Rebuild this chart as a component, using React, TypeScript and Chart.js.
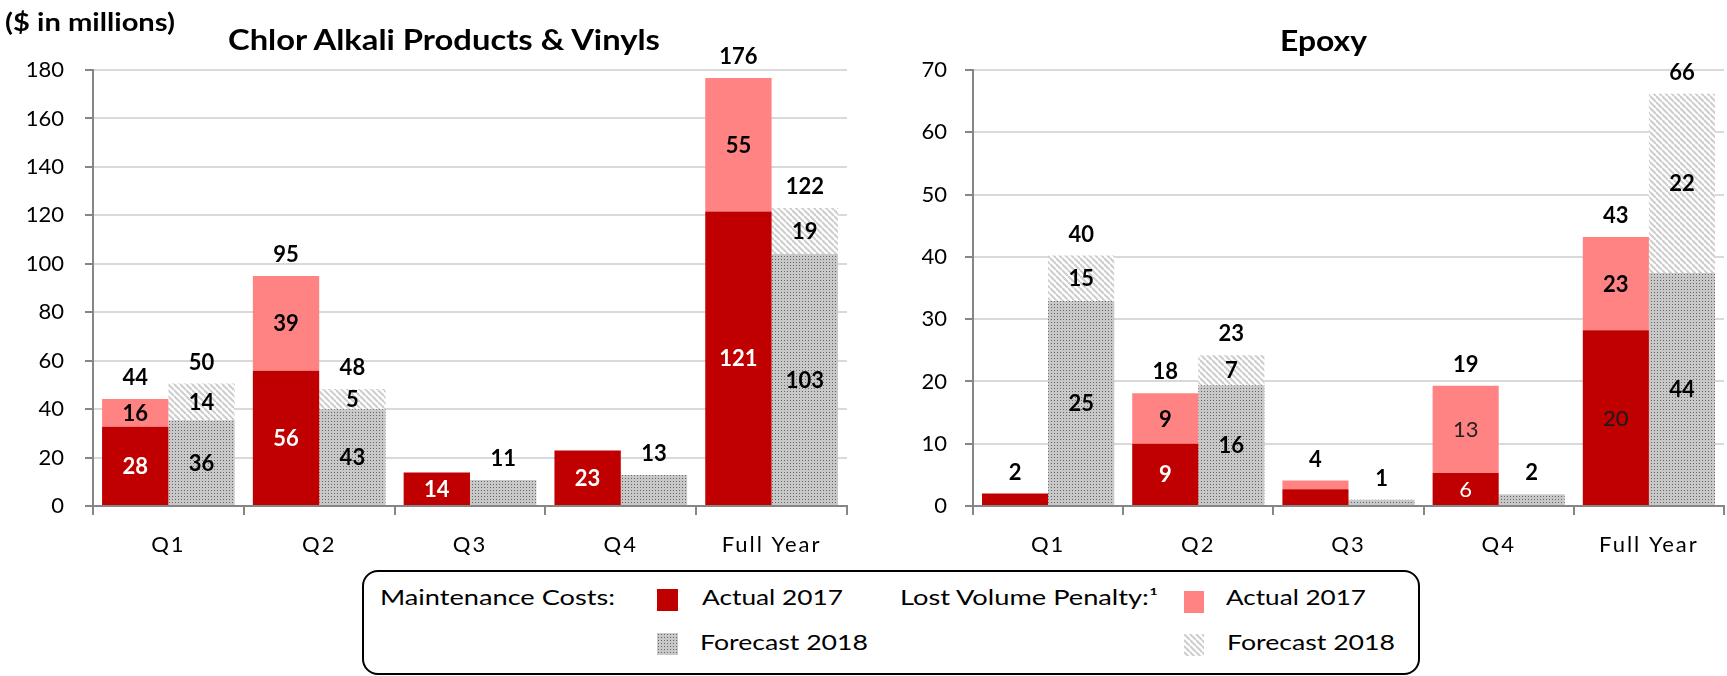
import React, { useEffect, useLayoutEffect, useRef } from 'react';
import { Chart, registerables } from 'chart.js';

Chart.register(...registerables);

// ---------- data ----------
const categories = ['Q1', 'Q2', 'Q3', 'Q4', 'Full Year'];

// Chlor Alkali Products & Vinyls — segment heights as drawn
const chlorMaintActual = [32.7, 55.8, 13.8, 22.9, 121.6];
const chlorLostActual = [11.5, 39.2, 0, 0, 55.1];
const chlorMaintForecast = [35.4, 39.9, 10.7, 12.8, 104];
const chlorLostForecast = [15.2, 8.4, 0, 0, 19];
// printed labels
const chlorMaintActualLabels = ['28', '56', '14', '23', '121'];
const chlorLostActualLabels = ['16', '39', '', '', '55'];
const chlorMaintForecastLabels = ['36', '43', '', '', '103'];
const chlorLostForecastLabels = ['14', '5', '', '', '19'];
const chlorActualTotals = ['44', '95', '', '', '176'];
const chlorForecastTotals = ['50', '48', '11', '13', '122'];
const chlorYTicks = [0, 20, 40, 60, 80, 100, 120, 140, 160, 180];

// Epoxy — segment heights as drawn
const epoxyMaintActual = [2, 10, 2.7, 5.3, 28.2];
const epoxyLostActual = [0, 8.1, 1.4, 14, 15];
const epoxyMaintForecast = [32.9, 19.4, 1, 1.9, 37.4];
const epoxyLostForecast = [7.3, 4.8, 0, 0, 28.8];
// printed labels
const epoxyMaintActualLabels = ['', '9', '', '6', '20'];
const epoxyLostActualLabels = ['', '9', '', '13', '23'];
const epoxyMaintForecastLabels = ['25', '16', '', '', '44'];
const epoxyLostForecastLabels = ['15', '7', '', '', '22'];
const epoxyActualTotals = ['2', '18', '4', '19', '43'];
const epoxyForecastTotals = ['40', '23', '1', '2', '66'];
const epoxyYTicks = [0, 10, 20, 30, 40, 50, 60, 70];

// ---------- styles ----------
const RED = '#C00000';
const PINK = '#FF8383';
const FONT = 'Lato';

const epoxyLabelOverrides: Record<string, { weight?: string; color?: string }> = {
  '0-3': { weight: 'normal', color: '#ffffff' },
  '0-4': { weight: 'normal', color: '#1a1a1a' },
  '1-3': { weight: 'normal', color: '#222222' },
};

function dotTile(): HTMLCanvasElement {
  const c = document.createElement('canvas');
  c.width = 3;
  c.height = 3;
  const g = c.getContext('2d')!;
  g.fillStyle = '#c8c8c8';
  g.fillRect(0, 0, 3, 3);
  g.fillStyle = '#666666';
  g.fillRect(1, 1, 1, 1);
  return c;
}

function hatchTile(): HTMLCanvasElement {
  const s = 6;
  const c = document.createElement('canvas');
  c.width = s;
  c.height = s;
  const g = c.getContext('2d')!;
  g.fillStyle = '#ffffff';
  g.fillRect(0, 0, s, s);
  g.strokeStyle = '#cdcdcd';
  g.lineWidth = 2;
  for (const k of [-1, 0, 1]) {
    g.beginPath();
    g.moveTo(0, k * s);
    g.lineTo(s, s + k * s);
    g.stroke();
  }
  return c;
}

type PanelProps = {
  left: number;
  width: number;
  height: number;
  yAxisWidth: number;
  padRight: number;
  tickPad: number;
  maintActual: number[];
  lostActual: number[];
  maintForecast: number[];
  lostForecast: number[];
  segLabels: string[][];
  actualTotals: string[];
  forecastTotals: string[];
  yTicks: number[];
  overrides?: Record<string, { weight?: string; color?: string }>;
};

function ChartPanel(p: PanelProps) {
  const ref = useRef<HTMLCanvasElement>(null);
  useEffect(() => {
    const canvas = ref.current!;
    const ctx0 = canvas.getContext('2d')!;
    const dot = ctx0.createPattern(dotTile(), 'repeat')!;
    const hatch = ctx0.createPattern(hatchTile(), 'repeat')!;

    const labelPlugin = {
      id: 'barLabels',
      afterDatasetsDraw(chart: any) {
        const ctx = chart.ctx;
        ctx.save();
        ctx.textAlign = 'center';
        ctx.textBaseline = 'middle';
        p.segLabels.forEach((labels, di) => {
          const meta = chart.getDatasetMeta(di);
          meta.data.forEach((el: any, i: number) => {
            const t = labels[i];
            if (!t) return;
            const ov = (p.overrides || {})[`${di}-${i}`] || {};
            const weight = ov.weight || 'bold';
            const color = ov.color || (di === 0 ? '#ffffff' : '#000000');
            ctx.font = `${weight} 22px ${FONT}`;
            ctx.fillStyle = color;
            ctx.fillText(t, el.x, (el.y + el.base) / 2 + 1);
          });
        });
        const totals = [
          { labels: p.actualTotals, ds: [0, 1] },
          { labels: p.forecastTotals, ds: [2, 3] },
        ];
        totals.forEach(({ labels, ds }) => {
          labels.forEach((t, i) => {
            if (!t) return;
            let top = Infinity;
            let x = 0;
            ds.forEach((di) => {
              const v = chart.data.datasets[di].data[i];
              const el = chart.getDatasetMeta(di).data[i];
              if (v > 0 && el.y < top) {
                top = el.y;
                x = el.x;
              }
            });
            ctx.font = `bold 22px ${FONT}`;
            ctx.fillStyle = '#000000';
            ctx.fillText(t, x, top - 21);
          });
        });
        ctx.restore();
        ctx.letterSpacing = '2px';
      },
      afterDraw(chart: any) {
        chart.ctx.letterSpacing = '0px';
      },
    };

    const chart = new Chart(canvas, {
      type: 'bar',
      data: {
        labels: categories,
        datasets: [
          { label: 'Maintenance Actual 2017', data: p.maintActual, backgroundColor: RED, stack: 'a' },
          { label: 'Lost Volume Actual 2017', data: p.lostActual, backgroundColor: PINK, stack: 'a' },
          { label: 'Maintenance Forecast 2018', data: p.maintForecast, backgroundColor: dot, stack: 'f' },
          { label: 'Lost Volume Forecast 2018', data: p.lostForecast, backgroundColor: hatch, stack: 'f' },
        ],
      },
      options: {
        animation: false,
        responsive: false,
        devicePixelRatio: 1,
        layout: { padding: { left: 0, right: p.padRight, top: 70, bottom: 0 } },
        datasets: {
          bar: { categoryPercentage: 0.88, barPercentage: 1, borderWidth: 0 },
        },
        plugins: {
          legend: { display: false },
          tooltip: { enabled: false },
          title: { display: false },
        },
        scales: {
          x: {
            stacked: true,
            grid: {
              display: true,
              drawOnChartArea: false,
              drawTicks: true,
              tickLength: 9,
              color: '#868686',
              lineWidth: 2,
              offset: true,
            },
            border: { display: true, color: '#868686', width: 2 },
            ticks: {
              color: '#000000',
              font: { size: 22, family: FONT },
              padding: 17,
              maxRotation: 0,
              autoSkip: false,
              z: 1,
            },
            afterFit: (s: any) => {
              s.height = 54;
            },
          },
          y: {
            stacked: true,
            min: p.yTicks[0],
            max: p.yTicks[p.yTicks.length - 1],
            afterBuildTicks: (s: any) => {
              s.ticks = p.yTicks.map((v) => ({ value: v }));
            },
            grid: {
              color: '#d9d9d9',
              lineWidth: 2,
              tickColor: '#868686',
              tickLength: 8,
              drawTicks: true,
            },
            border: { display: true, color: '#868686', width: 2 },
            ticks: {
              color: '#000000',
              font: { size: 22, family: FONT },
              padding: p.tickPad,
            },
            afterFit: (s: any) => {
              s.width = p.yAxisWidth;
            },
          },
        },
      },
      plugins: [labelPlugin],
    } as any);
    return () => chart.destroy();
  }, []);
  return (
    <canvas
      ref={ref}
      width={p.width}
      height={p.height}
      style={{ position: 'absolute', left: p.left, top: 0, width: p.width, height: p.height }}
    />
  );
}

function FitText(props: { x: number; y: number; w: number; size: number; weight?: string | number; children: React.ReactNode }) {
  const ref = useRef<HTMLSpanElement>(null);
  useLayoutEffect(() => {
    const el = ref.current;
    if (!el) return;
    el.style.transform = 'none';
    const natural = el.getBoundingClientRect().width;
    if (natural > 0) el.style.transform = `scaleX(${props.w / natural})`;
  });
  return (
    <span
      ref={ref}
      style={{
        position: 'absolute',
        left: props.x,
        top: props.y,
        fontSize: props.size,
        lineHeight: `${props.size}px`,
        fontWeight: props.weight || 'normal',
        whiteSpace: 'nowrap',
        transformOrigin: 'left top',
        color: '#000',
      }}
    >
      {props.children}
    </span>
  );
}

function Swatch(props: { x: number; y: number; w: number; h: number; fill: string | (() => HTMLCanvasElement) }) {
  const ref = useRef<HTMLCanvasElement>(null);
  useEffect(() => {
    const g = ref.current!.getContext('2d')!;
    g.fillStyle = typeof props.fill === 'string' ? props.fill : (g.createPattern(props.fill(), 'repeat') as any);
    g.fillRect(0, 0, props.w, props.h);
  }, []);
  return (
    <canvas
      ref={ref}
      width={props.w}
      height={props.h}
      style={{ position: 'absolute', left: props.x, top: props.y, width: props.w, height: props.h }}
    />
  );
}

export default function App() {
  const row1 = 586;
  const row2 = 631;
  return (
    <div
      style={{
        position: 'absolute',
        left: 0,
        top: 0,
        width: 1727,
        height: 676,
        overflow: 'hidden',
        background: '#ffffff',
        fontFamily: FONT,
      }}
    >
      <ChartPanel
        left={0}
        width={870}
        height={560}
        yAxisWidth={93}
        padRight={23}
        tickPad={21}
        maintActual={chlorMaintActual}
        lostActual={chlorLostActual}
        maintForecast={chlorMaintForecast}
        lostForecast={chlorLostForecast}
        segLabels={[chlorMaintActualLabels, chlorLostActualLabels, chlorMaintForecastLabels, chlorLostForecastLabels]}
        actualTotals={chlorActualTotals}
        forecastTotals={chlorForecastTotals}
        yTicks={chlorYTicks}
      />
      <ChartPanel
        left={870}
        width={857}
        height={560}
        yAxisWidth={103}
        padRight={3}
        tickPad={18}
        maintActual={epoxyMaintActual}
        lostActual={epoxyLostActual}
        maintForecast={epoxyMaintForecast}
        lostForecast={epoxyLostForecast}
        segLabels={[epoxyMaintActualLabels, epoxyLostActualLabels, epoxyMaintForecastLabels, epoxyLostForecastLabels]}
        actualTotals={epoxyActualTotals}
        forecastTotals={epoxyForecastTotals}
        yTicks={epoxyYTicks}
        overrides={epoxyLabelOverrides}
      />

      <FitText x={5} y={10} w={170} size={24} weight="bold">($ in millions)</FitText>
      <FitText x={228} y={25} w={432} size={28} weight="bold">Chlor Alkali Products &amp; Vinyls</FitText>
      <FitText x={1280} y={26} w={87} size={28} weight="bold">Epoxy</FitText>

      <div
        style={{
          position: 'absolute',
          left: 362,
          top: 570,
          width: 1058,
          height: 105,
          boxSizing: 'border-box',
          border: '2px solid #000',
          borderRadius: 16,
        }}
      />
      <FitText x={380} y={row1} w={235} size={21}>Maintenance Costs:</FitText>
      <Swatch x={657} y={589} w={21} h={22} fill={RED} />
      <FitText x={702} y={row1} w={141} size={21}>Actual 2017</FitText>
      <Swatch x={657} y={633} w={21} h={22} fill={dotTile} />
      <FitText x={700} y={row2} w={168} size={21}>Forecast 2018</FitText>

      <FitText x={900} y={row1} w={258} size={21}>Lost Volume Penalty:¹</FitText>
      <Swatch x={1184} y={591} w={20} h={22} fill={PINK} />
      <FitText x={1226} y={row1} w={140} size={21}>Actual 2017</FitText>
      <Swatch x={1184} y={634} w={20} h={22} fill={hatchTile} />
      <FitText x={1227} y={row2} w={168} size={21}>Forecast 2018</FitText>
    </div>
  );
}
